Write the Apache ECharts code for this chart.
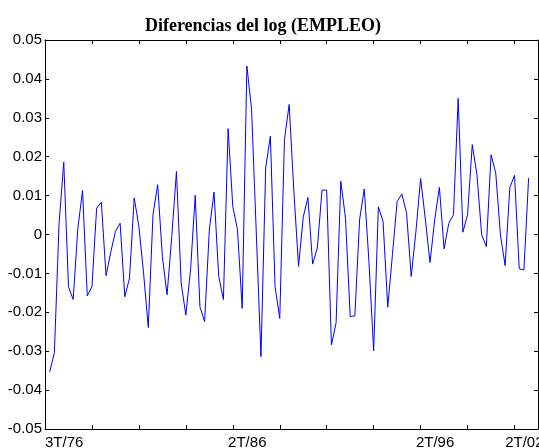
<!DOCTYPE html>
<html>
<head>
<meta charset="utf-8">
<script src="https://cdn.jsdelivr.net/npm/echarts@6/dist/echarts.min.js"></script>
<style>
html,body{margin:0;padding:0;background:#fff;}
#chart{width:539px;height:448px;}
</style>
</head>
<body>
<div id="chart"></div>
<script>
// Quarterly differences of log(EMPLEO), quarter index 1..103 (index 0 = 3T/76)
var firstIndex = 1;
var diffLog = [
  -0.0353, -0.0304, 0.0029, 0.0186, -0.0134, -0.0167, 0.0016, 0.0113, -0.0158, -0.0134,
  0.0068, 0.0083, -0.0106, -0.0046, 0.0008, 0.0029, -0.0160, -0.0112, 0.0094, 0.0021,
  -0.0100, -0.0239, 0.0051, 0.0128, -0.0057, -0.0155, -0.0005, 0.0162, -0.0125, -0.0207,
  -0.0091, 0.0101, -0.0186, -0.0224, 0.0012, 0.0109, -0.0108, -0.0167, 0.0272, 0.0072,
  0.0012, -0.0190, 0.0433, 0.0321, 0.0004, -0.0314, 0.0171, 0.0253, -0.0134, -0.0216,
  0.0244, 0.0334, 0.0112, -0.0082, 0.0045, 0.0095, -0.0076, -0.0035, 0.0114, 0.0114,
  -0.0284, -0.0227, 0.0137, 0.0042, -0.0211, -0.0209, 0.0038, 0.0117, -0.0071, -0.0299,
  0.0071, 0.0034, -0.0187, -0.0051, 0.0085, 0.0104, 0.0056, -0.0108, 0.0008, 0.0144,
  0.0040, -0.0072, 0.0038, 0.0121, -0.0037, 0.0029, 0.0051, 0.0350, 0.0006, 0.0051,
  0.0231, 0.0154, -0.0001, -0.0031, 0.0205, 0.0158, -0.0001, -0.0080, 0.0121, 0.0152,
  -0.0088, -0.0091, 0.0145
];
var xLabelIndex = [0, 39, 79, 98];
var xLabelText = ['3T/76', '2T/86', '2T/96', '2T/02'];
var xTickIndex = [0, 10, 20, 30, 40, 50, 60, 70, 80, 90, 100];
var xMin = 0, xMax = 105;
var yMin = -0.05, yMax = 0.05, yStep = 0.01;
var titleText = 'Diferencias del log (EMPLEO)';

var seriesData = diffLog.map(function (v, k) { return [firstIndex + k, v]; });

function yFmt(v) {
  var r = Math.round(v * 100) / 100;
  if (r === 0) return '0';
  return String(r);
}

var chart = echarts.init(document.getElementById('chart'), null, {renderer: 'canvas'});
var axisLine = {show: true, onZero: false, lineStyle: {color: '#000', width: 1}};
chart.setOption({
  animation: false,
  backgroundColor: '#fff',
  title: {
    text: titleText,
    left: 258,
    top: 12,
    textAlign: 'center',
    textStyle: {fontFamily: 'Liberation Serif', fontWeight: 'bold', fontSize: 18, color: '#000'}
  },
  grid: {left: 45, right: 1, top: 40, bottom: 19, containLabel: false, outerBoundsMode: 'none'},
  xAxis: [{
    type: 'value', position: 'bottom', min: xMin, max: xMax, interval: 10,
    axisLine: axisLine,
    axisTick: {show: true, inside: true, length: 4, customValues: xTickIndex, lineStyle: {color: '#000'}},
    axisLabel: {
      show: true, customValues: xLabelIndex, align: 'left', margin: 6, hideOverlap: false,
      fontFamily: 'Liberation Sans', fontSize: 15, color: '#000',
      formatter: function (v) { var k = xLabelIndex.indexOf(Math.round(v)); return k >= 0 ? xLabelText[k] : ''; }
    },
    splitLine: {show: false}
  }, {
    type: 'value', position: 'top', min: xMin, max: xMax, interval: 10,
    axisLine: axisLine,
    axisTick: {show: true, inside: true, length: 4, customValues: xTickIndex, lineStyle: {color: '#000'}},
    axisLabel: {show: false},
    splitLine: {show: false}
  }],
  yAxis: [{
    type: 'value', position: 'left', min: yMin, max: yMax, interval: yStep,
    axisLine: axisLine,
    axisTick: {show: true, inside: true, length: 4, lineStyle: {color: '#000'}},
    axisLabel: {show: true, margin: 3, fontFamily: 'Liberation Sans', fontSize: 15, color: '#000', formatter: yFmt},
    splitLine: {show: false}
  }, {
    type: 'value', position: 'right', min: yMin, max: yMax, interval: yStep,
    axisLine: axisLine,
    axisTick: {show: true, inside: true, length: 4, lineStyle: {color: '#000'}},
    axisLabel: {show: false},
    splitLine: {show: false}
  }],
  series: [{
    type: 'line', data: seriesData, xAxisIndex: 0, yAxisIndex: 0,
    showSymbol: false, symbol: 'none',
    lineStyle: {color: '#0000ff', width: 1}
  }]
});
</script>
</body>
</html>
